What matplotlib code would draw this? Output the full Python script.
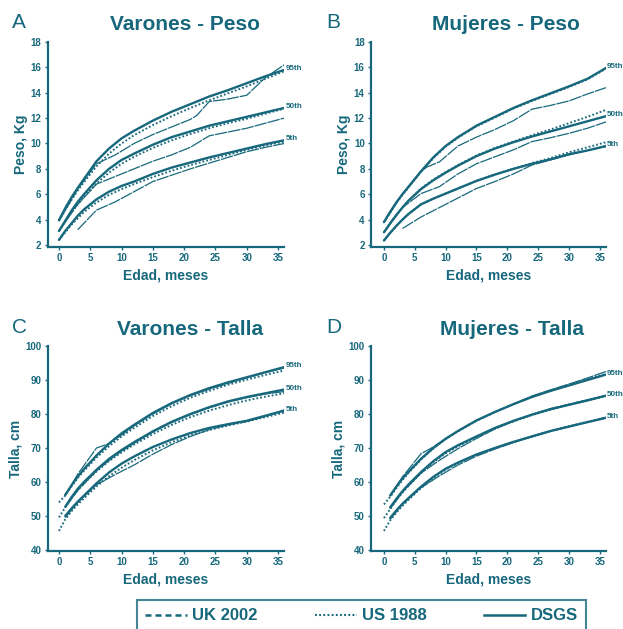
import matplotlib
matplotlib.use("Agg")
import matplotlib.pyplot as plt
from matplotlib.lines import Line2D

plt.rcParams['font.family'] = ['Liberation Sans', 'DejaVu Sans']
TEAL = '#17687c'

# ---------------- data ----------------
months = [0, 1, 2, 3, 4, 6, 8, 10, 12, 15, 18, 21, 24, 27, 30, 33, 36]
months_from1 = [1, 2, 3, 4, 6, 8, 10, 12, 15, 18, 21, 24, 27, 30, 33, 36]
percentiles = ['95th', '50th', '5th']

# Panel A: Varones - Peso
a_dsgs = {
    '95th': [3.95, 4.9, 5.75, 6.5, 7.2, 8.6, 9.6, 10.4, 11.0, 11.8, 12.5, 13.1, 13.7, 14.2, 14.75, 15.3, 15.8],
    '50th': [3.1, 3.9, 4.7, 5.4, 6.0, 7.1, 8.0, 8.7, 9.2, 9.9, 10.5, 10.95, 11.4, 11.75, 12.1, 12.45, 12.8],
    '5th': [2.4, 3.1, 3.7, 4.3, 4.8, 5.6, 6.2, 6.65, 7.0, 7.6, 8.1, 8.5, 8.9, 9.25, 9.6, 9.95, 10.25],
}
a_us = {
    '95th': [3.9, 4.75, 5.55, 6.3, 6.95, 8.2, 9.2, 10.0, 10.65, 11.45, 12.15, 12.8, 13.4, 13.95, 14.5, 15.1, 15.7],
    '50th': [3.1, 3.85, 4.6, 5.2, 5.8, 6.85, 7.7, 8.4, 8.95, 9.65, 10.25, 10.75, 11.2, 11.6, 11.95, 12.35, 12.75],
    '5th': [2.4, 3.0, 3.6, 4.1, 4.6, 5.35, 5.95, 6.4, 6.8, 7.35, 7.85, 8.3, 8.7, 9.1, 9.5, 9.85, 10.15],
}
a_uk_x = {
    '95th': [0, 3, 6, 9, 12, 15, 18, 21, 22, 24, 27, 30, 33, 36],
    '50th': [0, 3, 6, 9, 12, 15, 18, 21, 24, 27, 30, 33, 36],
    '5th': [3, 6, 9, 12, 15, 18, 21, 24, 27, 30, 33, 36],
}
a_uk_y = {
    '95th': [3.9, 6.4, 8.4, 9.1, 10.0, 10.7, 11.3, 11.9, 12.2, 13.3, 13.5, 13.8, 15.2, 16.2],
    '50th': [3.1, 5.2, 6.8, 7.4, 8.0, 8.6, 9.1, 9.7, 10.6, 10.9, 11.2, 11.6, 12.0],
    '5th': [3.2, 4.75, 5.4, 6.2, 7.0, 7.5, 8.0, 8.45, 8.9, 9.35, 9.7, 10.0],
}

# Panel B: Mujeres - Peso
b_dsgs = {
    '95th': [3.8, 4.6, 5.35, 6.0, 6.6, 7.8, 8.9, 9.8, 10.5, 11.4, 12.1, 12.8, 13.4, 13.95, 14.5, 15.1, 15.95],
    '50th': [3.0, 3.7, 4.35, 4.95, 5.5, 6.4, 7.1, 7.7, 8.25, 9.0, 9.6, 10.1, 10.55, 10.95, 11.35, 11.75, 12.15],
    '5th': [2.35, 2.95, 3.5, 4.0, 4.45, 5.2, 5.65, 6.05, 6.45, 7.05, 7.55, 8.0, 8.4, 8.75, 9.15, 9.45, 9.8],
}
b_us = {
    '95th': [3.8, 4.55, 5.3, 5.95, 6.55, 7.75, 8.85, 9.75, 10.45, 11.35, 12.05, 12.75, 13.35, 13.9, 14.45, 15.05, 15.9],
    '50th': [3.0, 3.7, 4.35, 4.95, 5.5, 6.45, 7.15, 7.75, 8.3, 9.05, 9.65, 10.15, 10.65, 11.1, 11.6, 12.1, 12.65],
    '5th': [2.35, 2.95, 3.5, 4.0, 4.45, 5.2, 5.65, 6.05, 6.45, 7.05, 7.55, 8.0, 8.45, 8.85, 9.3, 9.7, 10.1],
}
b_uk_x = {
    '95th': [0, 3, 6, 7, 9, 12, 15, 18, 21, 24, 27, 30, 33, 36],
    '50th': [0, 3, 6, 9, 12, 15, 18, 21, 24, 27, 30, 33, 36],
    '5th': [3, 6, 9, 12, 15, 18, 21, 24, 27, 30, 33, 36],
}
b_uk_y = {
    '95th': [3.8, 6.0, 7.8, 8.15, 8.55, 9.8, 10.5, 11.1, 11.8, 12.7, 13.0, 13.35, 13.9, 14.4],
    '50th': [3.0, 4.95, 6.05, 6.6, 7.6, 8.4, 8.95, 9.5, 10.15, 10.45, 10.8, 11.2, 11.7],
    '5th': [3.3, 4.2, 4.95, 5.7, 6.45, 7.0, 7.6, 8.3, 8.7, 9.1, 9.45, 9.75],
}

# Panel C: Varones - Talla
c_dsgs = {
    '95th': [56.2, 59.0, 61.6, 63.8, 67.8, 71.3, 74.3, 76.8, 80.3, 83.2, 85.6, 87.6, 89.3, 90.8, 92.3, 93.8],
    '50th': [52.7, 55.5, 58.0, 60.0, 63.6, 66.8, 69.4, 71.7, 74.9, 77.7, 80.0, 82.0, 83.7, 85.0, 86.1, 87.2],
    '5th': [50.0, 52.2, 54.2, 56.0, 59.6, 62.8, 65.4, 67.5, 70.3, 72.5, 74.4, 75.9, 77.0, 78.0, 79.5, 81.0],
}
c_us = {
    '95th': [54.0, 56.0, 58.7, 61.2, 63.3, 67.2, 70.5, 73.4, 75.9, 79.4, 82.3, 84.8, 86.8, 88.6, 90.1, 91.5, 92.8],
    '50th': [49.6, 52.5, 55.2, 57.6, 59.6, 63.1, 66.2, 68.7, 71.0, 74.1, 76.8, 79.1, 81.0, 82.6, 84.0, 85.1, 86.1],
    '5th': [45.6, 49.0, 51.4, 53.4, 55.2, 58.7, 61.7, 64.2, 66.4, 69.3, 71.7, 73.7, 75.3, 76.6, 77.8, 79.1, 80.4],
}
c_uk_x = {
    '95th': [1, 3, 6, 8, 10, 12, 15, 18, 21, 24, 27, 30, 33, 36],
    '50th': [1, 3, 6, 9, 12, 15, 18, 21, 24, 27, 30, 33, 36],
    '5th': [1, 3, 6, 9, 12, 15, 18, 21, 24, 27, 30, 33, 36],
}
c_uk_y = {
    '95th': [56.0, 62.3, 70.0, 71.3, 73.8, 76.5, 80.0, 83.0, 85.4, 87.3, 89.0, 90.6, 92.2, 93.5],
    '50th': [52.5, 57.5, 63.3, 67.8, 71.4, 74.7, 77.5, 79.8, 81.8, 83.5, 84.8, 85.9, 86.6],
    '5th': [49.5, 54.0, 59.2, 62.2, 65.0, 68.2, 71.0, 73.4, 75.4, 76.8, 77.8, 79.3, 81.2],
}

# Panel D: Mujeres - Talla
d_dsgs = {
    '95th': [56.0, 58.6, 61.0, 63.0, 66.8, 70.0, 72.7, 75.0, 78.1, 80.6, 82.9, 85.0, 86.8, 88.4, 90.0, 91.6],
    '50th': [52.5, 55.0, 57.3, 59.3, 62.9, 66.1, 68.8, 70.8, 73.4, 75.9, 78.0, 79.8, 81.4, 82.7, 84.0, 85.4],
    '5th': [49.4, 51.6, 53.6, 55.3, 58.6, 61.5, 63.9, 65.7, 68.1, 70.0, 71.8, 73.4, 75.0, 76.3, 77.6, 78.9],
}
d_us = {
    '95th': [53.4, 55.6, 58.2, 60.6, 62.7, 66.6, 69.9, 72.6, 74.9, 78.0, 80.6, 82.9, 85.1, 86.9, 88.6, 90.2, 91.8],
    '50th': [49.4, 52.0, 54.6, 56.9, 58.9, 62.6, 65.8, 68.4, 70.5, 73.2, 75.7, 77.8, 79.7, 81.3, 82.7, 84.0, 85.3],
    '5th': [45.6, 48.7, 51.0, 53.0, 54.8, 58.2, 61.2, 63.6, 65.6, 68.0, 70.0, 71.8, 73.4, 75.0, 76.4, 77.7, 79.0],
}
d_uk_x = {
    '95th': [1, 3, 6, 8, 10, 12, 15, 18, 21, 24, 27, 30, 33, 36],
    '50th': [1, 3, 6, 9, 12, 15, 18, 21, 24, 27, 30, 33, 36],
    '5th': [1, 3, 6, 9, 12, 15, 18, 21, 24, 27, 30, 33, 36],
}
d_uk_y = {
    '95th': [56.0, 61.5, 68.3, 70.3, 72.8, 75.0, 78.1, 80.6, 82.9, 85.3, 87.1, 88.8, 90.6, 92.5],
    '50th': [52.2, 57.0, 62.6, 66.4, 69.8, 72.8, 75.6, 77.9, 79.9, 81.6, 82.9, 84.2, 85.4],
    '5th': [49.0, 53.4, 58.3, 61.8, 65.0, 67.6, 69.7, 71.6, 73.3, 74.9, 76.3, 77.6, 78.8],
}

titles = ['Varones - Peso', 'Mujeres - Peso', 'Varones - Talla', 'Mujeres - Talla']
letters = ['A', 'B', 'C', 'D']
ylabels = ['Peso, Kg', 'Peso, Kg', 'Talla, cm', 'Talla, cm']
xlabel = 'Edad, meses'
weight_ticks = [2, 4, 6, 8, 10, 12, 14, 16, 18]
length_ticks = [40, 50, 60, 70, 80, 90, 100]
month_ticks = [0, 5, 10, 15, 20, 25, 30, 35]
legend_labels = ['UK 2002', 'US 1988', 'DSGS']

# ---------------- figure ----------------
W, H = 623, 629
fig = plt.figure(figsize=(W / 100, H / 100), dpi=100)

def px_axes(left, right, top, bottom):
    return [left / W, 1 - bottom / H, (right - left) / W, (bottom - top) / H]

panels = [
    dict(rect=px_axes(47.7, 284.3, 41.7, 247), xlim=(-1.8, 36), ylim=(1.84, 18.02), yt=weight_ticks,
         dsgs=a_dsgs, dx=months, us=a_us, ukx=a_uk_x, uky=a_uk_y, tx=0.58, ty=1.085),
    dict(rect=px_axes(371, 606, 41.7, 247), xlim=(-2.1, 36), ylim=(1.84, 18.02), yt=weight_ticks,
         dsgs=b_dsgs, dx=months, us=b_us, ukx=b_uk_x, uky=b_uk_y, tx=0.575, ty=1.085),
    dict(rect=px_axes(47.7, 284.3, 346, 551), xlim=(-1.8, 36), ylim=(39.7, 100), yt=length_ticks,
         dsgs=c_dsgs, dx=months_from1, us=c_us, ukx=c_uk_x, uky=c_uk_y, tx=0.60, ty=1.08),
    dict(rect=px_axes(371, 606, 346, 551), xlim=(-2.1, 36), ylim=(39.7, 100), yt=length_ticks,
         dsgs=d_dsgs, dx=months_from1, us=d_us, ukx=d_uk_x, uky=d_uk_y, tx=0.60, ty=1.08),
]

for i, p in enumerate(panels):
    ax = fig.add_axes(p['rect'])
    for pc in percentiles:
        ax.plot(p['ukx'][pc], p['uky'][pc], color=TEAL, lw=0.9, linestyle=(0, (10, 0.8)),
                solid_capstyle='round')
        ax.plot(months, p['us'][pc], color=TEAL, lw=1.4, linestyle=(0, (0.9, 1.1)))
        ax.plot(p['dx'], p['dsgs'][pc], color=TEAL, lw=1.7, solid_capstyle='round')
        ax.annotate(pc, xy=(p['dx'][-1], p['dsgs'][pc][-1]), xytext=(0.8, 1),
                    textcoords='offset points', fontsize=5.8, fontweight='bold',
                    color=TEAL, ha='left', va='center', annotation_clip=False)
    ax.set_xlim(*p['xlim'])
    ax.set_ylim(*p['ylim'])
    ax.set_xticks(month_ticks)
    ax.set_yticks(p['yt'])
    for s in ['top', 'right']:
        ax.spines[s].set_visible(False)
    for s in ['left', 'bottom']:
        ax.spines[s].set_color(TEAL)
        ax.spines[s].set_linewidth(1.6)
    ax.tick_params(colors=TEAL, labelcolor=TEAL, length=2, width=1, pad=2.5, labelsize=7)
    for lab in ax.get_xticklabels() + ax.get_yticklabels():
        lab.set_fontweight('bold')
    ax.set_xlabel(xlabel, fontsize=10, fontweight='bold', color=TEAL, labelpad=4)
    ax.set_ylabel(ylabels[i], fontsize=10, fontweight='bold', color=TEAL, labelpad=2)
    ax.text(p['tx'], p['ty'], titles[i], transform=ax.transAxes, fontsize=15,
            fontweight='bold', color=TEAL, ha='center', va='center')
    ax.text(-0.12 if i % 2 == 0 else -0.16, p['ty'] + 0.01, letters[i], transform=ax.transAxes,
            fontsize=15, color=TEAL, ha='center', va='center')

handles = [
    Line2D([], [], color=TEAL, lw=1.8, linestyle=(0, (2.4, 1.6))),
    Line2D([], [], color=TEAL, lw=1.5, linestyle=(0, (0.9, 1.1))),
    Line2D([], [], color=TEAL, lw=1.8),
]
leg = fig.legend(handles, legend_labels, loc='upper left', bbox_to_anchor=(137 / W, 1 - 600 / H),
                 ncol=3, fontsize=12, frameon=True, fancybox=False, handlelength=2.5,
                 handletextpad=0.3, columnspacing=3.45, borderpad=0.5, borderaxespad=0)
leg.get_frame().set_edgecolor(TEAL)
leg.get_frame().set_linewidth(1.5)
for t in leg.get_texts():
    t.set_color(TEAL)
    t.set_fontweight('bold')

fig.savefig('out.png', dpi=100)
